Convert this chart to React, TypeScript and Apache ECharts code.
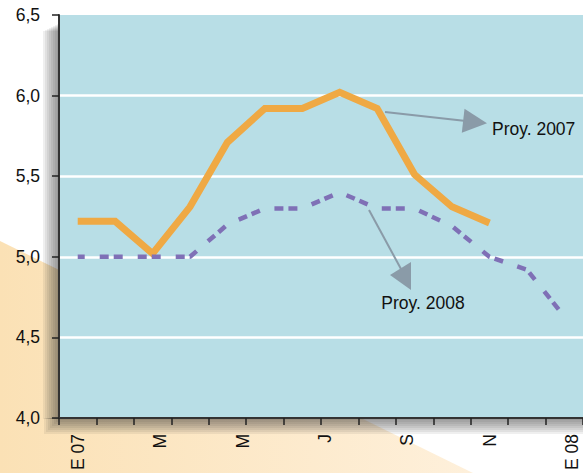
import * as echarts from 'echarts';
import { useEffect, useRef } from 'react';

const months = ['E 07', 'F', 'M', 'A', 'M', 'J', 'J', 'A', 'S', 'O', 'N', 'D', 'E 08', 'F'];
const tickLabels = ['E 07', 'M', 'M', 'J', 'S', 'N', 'E 08'];
const proy2007 = [5.22, 5.22, 5.02, 5.31, 5.71, 5.92, 5.92, 6.02, 5.92, 5.51, 5.31, 5.21];
const proy2008 = [5.0, 5.0, 5.0, 5.0, 5.2, 5.3, 5.3, 5.4, 5.3, 5.3, 5.19, 5.0, 4.92, 4.63];
const seriesNames = ['Proy. 2007', 'Proy. 2008'];

const FONT = "'Liberation Sans', Arial, Helvetica, sans-serif";
const ARROW = '#8A9BA8';
const PLOT = { left: 59, top: 15, width: 532, height: 403 };

function shadowStrips() {
  const els: any[] = [];
  const steps = 8;
  const size = 16;
  for (let i = 0; i < steps; i++) {
    const d = ((i + 1) * size) / steps; // distance out from the plot edge
    const alpha = 0.075;
    // left strip (each grows outward, overlaps accumulate toward the edge)
    els.push({
      type: 'rect', z: -5, silent: true,
      shape: { x: PLOT.left - d, y: PLOT.top + 8 + d * 0.5, width: d, height: PLOT.height - 8 - d * 0.5 + 1 },
      style: { fill: `rgba(40,40,40,${alpha})` },
    });
    // bottom strip
    els.push({
      type: 'rect', z: -5, silent: true,
      shape: { x: PLOT.left - d + 1, y: PLOT.top + PLOT.height, width: PLOT.width + d, height: d },
      style: { fill: `rgba(40,40,40,${alpha})` },
    });
  }
  return els;
}

export default function App() {
  const ref = useRef<HTMLDivElement>(null);
  useEffect(() => {
    if (!ref.current) return;
    const chart = echarts.init(ref.current, null, { renderer: 'svg' });
    chart.setOption({
      animation: false,
      backgroundColor: '#ffffff',
      grid: [
        { ...PLOT, show: true, backgroundColor: '#B8DEE6', borderWidth: 0 },
        { left: 78, top: 15, width: 494, height: 403, show: false },
      ],
      xAxis: [
        {
          type: 'category', gridIndex: 0, data: months, boundaryGap: true,
          axisLine: { show: true, lineStyle: { color: '#333', width: 2 } },
          axisTick: { show: true, interval: 0, length: 7, lineStyle: { color: '#222', width: 1.5 } },
          axisLabel: { show: false },
          splitLine: { show: false },
        },
        {
          type: 'category', gridIndex: 1, data: tickLabels, boundaryGap: false,
          axisLine: { show: false }, axisTick: { show: false },
          axisLabel: { rotate: 90, margin: 17, interval: 0, fontSize: 17.5, color: '#111', fontFamily: FONT },
          splitLine: { show: false },
        },
      ],
      yAxis: [
        {
          type: 'value', gridIndex: 0, min: 4, max: 6.5, interval: 0.5,
          axisLine: { show: true, lineStyle: { color: '#333', width: 2 } },
          axisTick: { show: true, length: 7, lineStyle: { color: '#222', width: 1.5 } },
          axisLabel: {
            formatter: (v: number) => v.toFixed(1).replace('.', ','),
            margin: 19, fontSize: 17.5, color: '#111', fontFamily: FONT,
          },
          splitLine: { show: true, showMinLine: false, showMaxLine: false, lineStyle: { color: '#ffffff', width: 2.5 } },
        },
        { type: 'value', gridIndex: 1, min: 4, max: 6.5, show: false },
      ],
      series: [
        {
          name: seriesNames[0], type: 'line', xAxisIndex: 0, yAxisIndex: 0, data: proy2007,
          symbol: 'none', showSymbol: false, z: 2,
          lineStyle: { color: '#EFA944', width: 7, join: 'miter' },
        },
        {
          name: seriesNames[1], type: 'line', xAxisIndex: 0, yAxisIndex: 0, data: proy2008,
          symbol: 'none', showSymbol: false, z: 3,
          lineStyle: { color: '#7F70B6', width: 4.5, type: [9, 15, 9, 5], dashOffset: 2, cap: 'butt' },
        },
      ],
      graphic: [
        {
          type: 'polygon', z: -10, silent: true,
          shape: { points: [[0, 241], [473, 473], [0, 473]] },
          style: {
            fill: new echarts.graphic.LinearGradient(0, 0, 1, 0, [
              { offset: 0, color: '#FBE1B5' },
              { offset: 1, color: '#FEF0DB' },
            ]),
          },
        },
        ...shadowStrips(),
        { type: 'line', z: 100, shape: { x1: 385, y1: 112, x2: 466, y2: 121 }, style: { stroke: ARROW, lineWidth: 2 } },
        { type: 'polygon', z: 100, shape: { points: [[464.5, 108.7], [461.8, 132.8], [487, 123.3]] }, style: { fill: ARROW } },
        {
          type: 'text', z: 100, x: 492, y: 129,
          style: { text: seriesNames[0], fontSize: 17.5, fontFamily: FONT, fill: '#111', verticalAlign: 'middle', align: 'left' },
        },
        { type: 'line', z: 100, shape: { x1: 369, y1: 210, x2: 401, y2: 269 }, style: { stroke: ARROW, lineWidth: 2 } },
        { type: 'polygon', z: 100, shape: { points: [[390, 275], [411, 262], [411, 290]] }, style: { fill: ARROW } },
        {
          type: 'text', z: 100, x: 423, y: 303,
          style: { text: seriesNames[1], fontSize: 17.5, fontFamily: FONT, fill: '#111', verticalAlign: 'middle', align: 'center' },
        },
      ],
    });
    return () => chart.dispose();
  }, []);
  return <div ref={ref} style={{ position: 'absolute', left: 0, top: 0, width: 583, height: 473 }} />;
}
